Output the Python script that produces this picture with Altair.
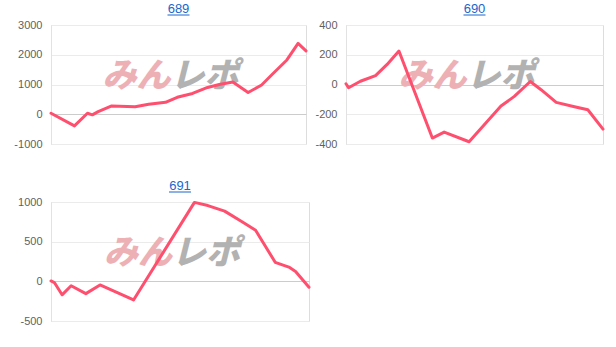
import altair as alt
import pandas as pd

# ---- data (x = relative position along the session, y = differential) ----
titles = ["689", "690", "691"]

x689 = [0, 9.2, 14.3, 16.2, 18.5, 23.8, 33.0, 38.3, 44.9, 49.5, 55.5, 61.4, 66.0, 71.3, 77.3, 82.6, 86.5, 92.5, 96.9, 100]
y689 = [35, -390, 35, -20, 90, 280, 250, 335, 400, 570, 700, 900, 1000, 1085, 730, 985, 1320, 1825, 2380, 2130]

x690 = [0, 1.0, 5.6, 11.5, 16.0, 20.6, 33.6, 38.2, 47.9, 60.3, 65.5, 71.7, 75.9, 81.8, 88.9, 94.1, 100]
y690 = [5, -22, 22, 60, 135, 225, -360, -320, -385, -145, -80, 20, -35, -120, -150, -170, -300]

x691 = [0, 1.3, 4.3, 7.8, 13.5, 19.0, 32.0, 55.6, 60.8, 67.3, 73.9, 79.3, 86.9, 92.2, 94.8, 100]
y691 = [5, -15, -170, -55, -155, -45, -235, 995, 955, 885, 755, 645, 240, 180, 125, -75]

domains = [[-1000, 3000], [-400, 400], [-500, 1000]]
tick_values = [[-1000, 0, 1000, 2000, 3000], [-400, -200, 0, 200, 400], [-500, 0, 500, 1000]]
widths = [255, 257, 258]
PLOT_H = 119

LINE_COLOR = "#ff4f6e"
TITLE_COLOR = "#1a66cc"


def panel(xs, ys, domain, ticks, title, w):
    df = pd.DataFrame({"x": xs, "y": ys})
    line = alt.Chart(df).mark_line(
        color=LINE_COLOR, strokeWidth=3, strokeJoin="round", strokeCap="round"
    ).encode(
        x=alt.X("x:Q", axis=None, scale=alt.Scale(domain=[0, 100], nice=False, zero=False)),
        y=alt.Y(
            "y:Q",
            scale=alt.Scale(domain=domain, nice=False, zero=False),
            axis=alt.Axis(
                values=ticks, title=None, ticks=False, tickSize=0, labelPadding=9,
                labelFontSize=11, labelColor="#5f5f5f", labelFont="Liberation Sans",
                labelOverlap=False, labelExpr="'' + datum.value",
                gridColor={"expr": "datum.value === 0 ? '#cccccc' : '#ebebeb'"},
                domainColor="#e2e2e2",
            ),
        ),
    )
    wm = pd.DataFrame({"a": ["みん"], "b": ["レポ"]})
    wm1 = alt.Chart(wm).mark_text(
        font="Noto Sans CJK JP", fontSize=34, fontWeight=900, fontStyle="italic",
        color="#edb0b5", align="right", baseline="middle",
    ).encode(text="a:N", x=alt.value(w / 2 - 8), y=alt.value(52))
    wm2 = alt.Chart(wm).mark_text(
        font="Noto Sans CJK JP", fontSize=34, fontWeight=900, fontStyle="italic",
        color="#b2b2b2", align="left", baseline="middle",
    ).encode(text="b:N", x=alt.value(w / 2 - 8), y=alt.value(52))
    tdf = pd.DataFrame({"t": [title]})
    ttl = alt.Chart(tdf).mark_text(
        font="Liberation Sans", fontSize=13, color=TITLE_COLOR, align="center",
        baseline="alphabetic",
    ).encode(text="t:N", x=alt.value(w / 2), y=alt.value(-12))
    ul = alt.Chart(tdf).mark_rule(color=TITLE_COLOR, strokeWidth=1).encode(
        x=alt.value(w / 2 - 11), x2=alt.value(w / 2 + 11), y=alt.value(-10)
    )
    return alt.layer(wm1, wm2, line, ttl, ul).properties(width=w, height=PLOT_H)


p1 = panel(x689, y689, domains[0], tick_values[0], titles[0], widths[0])
p2 = panel(x690, y690, domains[1], tick_values[1], titles[1], widths[1])
p3 = panel(x691, y691, domains[2], tick_values[2], titles[2], widths[2])

chart = alt.concat(
    p1, p2, p3, columns=2, spacing={"row": 58, "column": 37}, bounds="flush"
).properties(
    padding={"left": 13, "top": 2, "right": 5, "bottom": 5}
).configure_view(stroke=None).configure(background="white")

chart.save("out.html", embed_options={"renderer": "svg", "actions": False})
